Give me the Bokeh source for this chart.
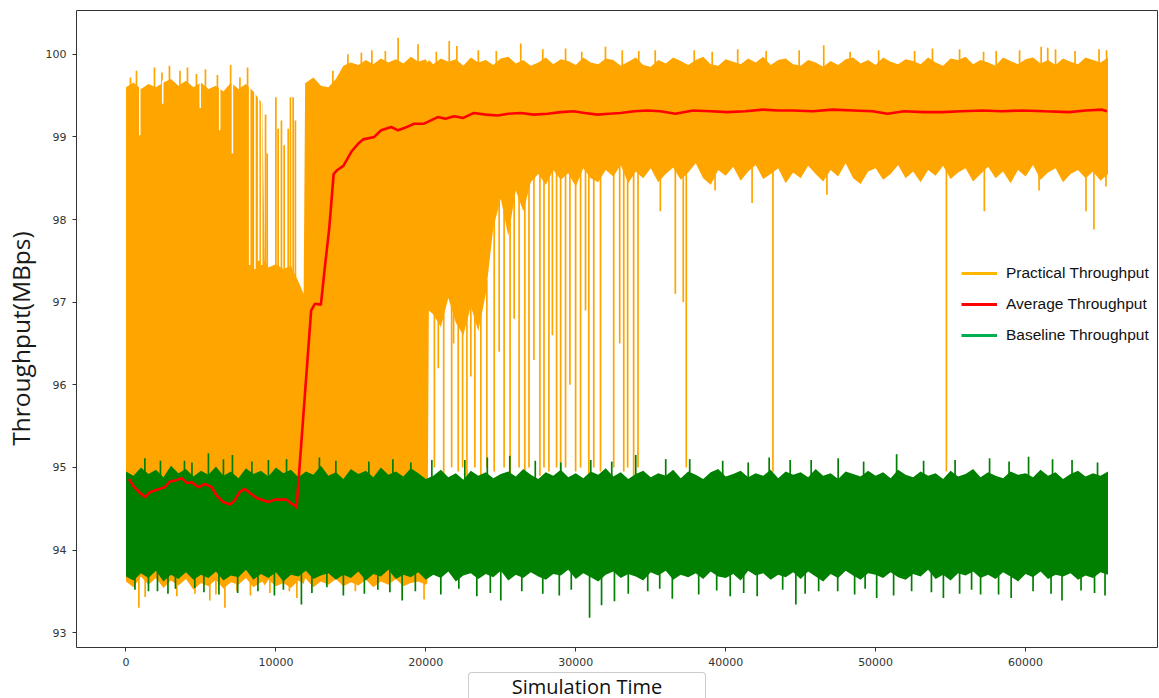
import numpy as np
from bokeh.plotting import figure
from bokeh.layouts import column, row
from bokeh.models import Range1d, Legend, LegendItem, FixedTicker, Div, Spacer
from bokeh.embed import file_html
from bokeh.resources import INLINE

# ---------------- data ----------------
# Practical throughput: sample times of the envelope and its upper / lower edge
o_t = (list(range(0, 8501, 500)) + [9100, 9250, 9500, 10000, 10500, 11000, 11500, 11850, 11950]
       + list(range(12500, 20001, 500)) + [20100, 20200] + list(range(20500, 65501, 500)))
o_hi = [
    99.60, 99.66, 99.58, 99.64, 99.60, 99.66, 99.70, 99.62, 99.68, 99.60,
    99.66, 99.58, 99.62, 99.55, 99.66, 99.58, 99.64, 99.55,
    99.40, 97.50, 97.42, 97.46, 97.40, 97.44, 97.25, 97.10, 99.65,
    99.72, 99.62, 99.60, 99.70, 99.86, 99.90, 99.87, 99.93, 99.88, 99.95,
    99.90, 99.94, 99.89, 99.97, 99.91, 99.94,
    99.90, 99.93,
    99.88, 99.95, 99.91, 99.94, 99.86, 99.96, 99.90, 99.93, 99.87, 99.95,
    99.97, 99.89, 99.93, 99.86, 99.90, 99.96, 99.88, 99.94, 99.92, 99.87,
    99.96, 99.90, 99.88, 99.95, 99.93, 99.86, 99.91, 99.96, 99.87, 99.85,
    99.93, 99.89, 99.96, 99.92, 99.87, 99.93, 99.97, 99.88, 99.86, 99.94,
    99.91, 99.88, 99.95, 99.90, 99.97, 99.87, 99.93, 99.95, 99.88, 99.86,
    99.93, 99.90, 99.85, 99.92, 99.87, 99.94, 99.96, 99.89, 99.93, 99.87,
    99.96, 99.91, 99.88, 99.94, 99.92, 99.88, 99.96, 99.90, 99.86, 99.95,
    99.93, 99.97, 99.88, 99.93, 99.90, 99.86, 99.96, 99.92, 99.88, 99.94,
    99.96, 99.89, 99.93, 99.87, 99.95, 99.91, 99.88, 99.96, 99.93, 99.90,
    99.96,
]
o_lo = [
    93.62, 93.55, 93.68, 93.58, 93.66, 93.54, 93.63, 93.57, 93.65, 93.52,
    93.60, 93.56, 93.64, 93.53, 93.61, 93.58, 93.66, 93.55,
    93.62, 93.57, 93.64, 93.56, 93.60, 93.54, 93.63, 93.59, 93.66,
    93.55, 93.62, 93.58, 93.65, 93.56, 93.61, 93.57, 93.64, 93.55, 93.62,
    93.58, 93.65, 93.56, 93.60, 93.62, 93.58,
    93.60, 96.90,
    96.85, 96.70, 97.05, 96.75, 96.60, 96.95, 96.65, 97.10, 97.90,
    98.25, 97.80, 98.35, 98.10, 98.45, 98.55, 98.42, 98.60, 98.48, 98.56,
    98.40, 98.62, 98.50, 98.45, 98.60, 98.52, 98.66, 98.44, 98.58, 98.50,
    98.62, 98.45, 98.55, 98.63, 98.48, 98.57, 98.68, 98.50, 98.42, 98.60,
    98.53, 98.64, 98.47, 98.58, 98.66, 98.49, 98.55, 98.62, 98.44, 98.57,
    98.50, 98.65, 98.55, 98.46, 98.60, 98.52, 98.68, 98.50, 98.43, 98.58,
    98.62, 98.48, 98.55, 98.66, 98.50, 98.58, 98.45, 98.60, 98.53, 98.65,
    98.49, 98.57, 98.62, 98.46, 98.55, 98.64, 98.50, 98.58, 98.44, 98.60,
    98.52, 98.66, 98.48, 98.57, 98.62, 98.45, 98.55, 98.60, 98.50, 98.58,
    98.47, 98.55,
]
# isolated downward excursions of the practical trace (time, lowest value)
o_dn_t = [860, 1280, 3390, 4600, 5590, 6000, 6600, 7400, 8300, 9600, 10900, 11400,
          15300, 19880,
          20570, 20830, 21190, 21720, 21850, 22160, 22450, 22740, 23000, 23270,
          23670, 24070, 24560, 24890, 25220, 25620, 25890, 26220, 26600, 26880,
          27210, 27610, 27880, 28210, 28440, 28720, 28990, 29320, 29610, 29990,
          30320, 30650, 30870, 31200, 31650, 32530, 32930, 33200, 33460, 33860,
          34150, 36640, 37170, 37370, 43150, 54720,
          35640, 39290, 41760, 46750, 57250, 60900, 64030, 64560, 65360]
o_dn_v = [93.30, 93.43, 93.44, 93.47, 93.39, 93.46, 93.30, 93.50, 93.45, 93.48, 93.50, 93.42,
          93.50, 93.40,
          95.00, 96.20, 94.90, 95.00, 96.50, 94.95, 95.00, 94.90, 96.10, 95.00,
          94.90, 95.00, 94.95, 96.40, 95.00, 94.90, 96.80, 95.00, 94.95, 95.00,
          96.30, 94.90, 95.00, 94.95, 96.60, 95.00, 94.90, 95.00, 96.00, 94.95,
          95.00, 96.90, 94.90, 95.00, 94.95, 95.00, 96.50, 94.95, 95.00, 94.90,
          95.00, 97.10, 97.00, 95.00, 94.95, 94.95,
          98.10, 98.35, 98.20, 98.30, 98.10, 98.35, 98.10, 97.88, 98.40]
# isolated upward excursions (time, highest value)
o_up_t = [300, 700, 1900, 2400, 2900, 3600, 4100, 4700, 5300, 6100, 6980, 7600, 8110,
          8380, 8490, 8710, 9310, 9420, 10000, 10150, 10370, 10550, 10820, 10970,
          11150, 11300, 13800, 14800, 15700, 16400, 17300, 18150, 19480, 20700, 21560,
          22070, 23500, 24700, 26330, 27800, 29320, 30400, 31980, 33100, 34200, 35300,
          37900, 39100, 40800, 42700, 44900, 46540, 48300, 50200, 52600, 53790, 55600,
          57200, 58040, 59600, 61040, 61480, 62000, 63300, 64900, 65400]
o_up_v = [99.72, 99.80, 99.84, 99.78, 99.86, 99.80, 99.84, 99.76, 99.82, 99.75, 99.87, 99.72, 99.84,
          99.00, 99.20, 99.20, 99.27, 98.80, 99.48, 99.10, 99.20, 98.90, 99.10, 99.48,
          99.48, 99.20, 99.80, 100.00, 100.02, 100.05, 100.04, 100.20, 100.12, 100.03, 100.16,
          100.10, 100.05, 100.04, 100.13, 100.06, 100.07, 100.03, 100.09, 100.05, 100.04, 100.05,
          100.05, 100.03, 100.06, 100.04, 100.05, 100.11, 100.03, 100.05, 100.04, 100.07, 100.06,
          100.03, 100.04, 100.05, 100.09, 100.08, 100.06, 100.04, 100.06, 100.05]
# narrow gaps reaching down from the top of the practical trace (time, depth)
o_gap_t = [920, 2450, 4950, 6250, 7100, 8250, 8600, 8850, 9050]
o_gap_v = [99.02, 99.40, 99.35, 99.08, 98.80, 97.45, 97.40, 97.50, 97.45]

# Baseline throughput envelope (every 500 time units)
g_hi = [
    94.95, 94.90, 95.00, 94.92, 94.97, 94.88, 95.02, 94.93, 94.98, 94.89,
    94.96, 94.91, 95.01, 94.90, 94.95, 94.87, 94.99, 94.92, 94.96, 94.89,
    95.00, 94.93, 94.97, 94.88, 94.95, 94.91, 95.02, 94.90, 94.94, 94.86,
    94.98, 94.92, 94.96, 94.88, 95.00, 94.91, 94.95, 94.89, 94.99, 94.93,
    94.86, 94.90, 94.97, 94.88, 94.93, 94.85, 94.96, 94.90, 94.94, 94.87,
    94.92, 94.95, 94.89, 94.98, 94.91, 94.86, 94.94, 94.90, 94.97, 94.88,
    94.93, 94.87, 94.95, 94.91, 94.99, 94.89, 94.94, 94.86, 94.92, 94.96,
    94.88, 94.93, 94.90, 94.97, 94.87, 94.95, 94.91, 94.86, 94.94, 94.98,
    94.89, 94.92, 94.96, 94.88, 94.93, 94.90, 94.97, 94.87, 94.95, 94.91,
    94.94, 94.88, 94.98, 94.90, 94.93, 94.86, 94.95, 94.92, 94.89, 94.96,
    94.90, 94.94, 94.87, 94.97, 94.91, 94.88, 94.95, 94.90, 94.93, 94.86,
    94.96, 94.89, 94.92, 94.98, 94.88, 94.94, 94.90, 94.87, 94.95, 94.91,
    94.93, 94.88, 94.97, 94.90, 94.94, 94.86, 94.92, 94.96, 94.89, 94.93,
    94.90, 94.95,
]
g_lo = [
    93.68, 93.63, 93.72, 93.66, 93.75, 93.62, 93.70, 93.65, 93.73, 93.64,
    93.70, 93.66, 93.74, 93.63, 93.69, 93.67, 93.76, 93.64, 93.71, 93.66,
    93.73, 93.62, 93.70, 93.68, 93.75, 93.65, 93.69, 93.72, 93.64, 93.70,
    93.66, 93.74, 93.63, 93.71, 93.68, 93.76, 93.65, 93.70, 93.67, 93.73,
    93.64, 93.70, 93.66, 93.74, 93.62, 93.69, 93.72, 93.65, 93.71, 93.67,
    93.75, 93.63, 93.70, 93.66, 93.73, 93.68, 93.64, 93.71, 93.69, 93.76,
    93.65, 93.72, 93.67, 93.62, 93.70, 93.74, 93.66, 93.71, 93.68, 93.63,
    93.73, 93.69, 93.75, 93.64, 93.70, 93.67, 93.72, 93.65, 93.74, 93.68,
    93.66, 93.71, 93.63, 93.75, 93.69, 93.72, 93.64, 93.70, 93.67, 93.73,
    93.65, 93.74, 93.68, 93.62, 93.71, 93.66, 93.75, 93.69, 93.64, 93.72,
    93.70, 93.66, 93.73, 93.67, 93.64, 93.71, 93.68, 93.76, 93.65, 93.70,
    93.63, 93.72, 93.69, 93.74, 93.66, 93.70, 93.65, 93.73, 93.68, 93.62,
    93.71, 93.67, 93.74, 93.65, 93.70, 93.68, 93.72, 93.64, 93.69, 93.66,
    93.73, 93.70,
]
g_dn_t = [4590, 7450, 11700, 18420, 23400, 25000, 30920, 31720, 32580, 36440, 44680, 47470,
          50070, 53720, 54520, 59040, 62430, 63700, 2100, 14500, 27800, 40300, 57000,
          600, 1500, 2800, 3300, 5200, 6200, 8800, 9900, 10500, 12400, 13400, 15900,
          16800, 17600, 19300, 21000, 22200, 24300, 26400, 28900, 29700, 33500, 34800,
          35600, 38200, 39400, 41200, 42100, 43800, 45300, 46200, 48600, 49300, 51200,
          52400, 55600, 56400, 58200, 60500, 61700, 64600, 65300]
g_dn_v = [93.54, 93.48, 93.34, 93.39, 93.44, 93.39, 93.18, 93.33, 93.38, 93.41, 93.34, 93.50,
          93.42, 93.49, 93.42, 93.42, 93.39, 93.51, 93.50, 93.45, 93.47, 93.44, 93.46,
          93.52, 93.50, 93.47, 93.53, 93.49, 93.46, 93.50, 93.45, 93.52, 93.48, 93.55, 93.47,
          93.52, 93.49, 93.50, 93.46, 93.53, 93.48, 93.50, 93.45, 93.52, 93.47, 93.50,
          93.53, 93.46, 93.51, 93.48, 93.44, 93.52, 93.47, 93.50, 93.46, 93.53, 93.45,
          93.50, 93.47, 93.52, 93.46, 93.50, 93.47, 93.48, 93.45]
g_up_t = [1260, 3900, 5500, 7100, 10710, 12900, 20400, 25600, 27300, 34000, 37600, 42900,
          45700, 51400, 53200, 57600, 60200, 63100, 2300, 4400, 6500, 8400, 9500, 14000,
          16200, 17800, 19000, 22600, 24100, 29000, 31000, 32400, 36000, 39800, 41500,
          44300, 47500, 49200, 55300, 58900, 61800, 64800]
g_up_v = [95.11, 95.08, 95.17, 95.15, 95.10, 95.12, 95.09, 95.14, 95.08, 95.15, 95.10, 95.12,
          95.09, 95.16, 95.08, 95.11, 95.13, 95.09, 95.08, 95.06, 95.10, 95.07, 95.09, 95.08,
          95.07, 95.10, 95.06, 95.09, 95.12, 95.06, 95.09, 95.07, 95.10, 95.08, 95.06,
          95.09, 95.11, 95.07, 95.09, 95.07, 95.10, 95.06]

# Average throughput (running mean)
avg_t = [200, 510, 940, 1280, 1600, 2060, 2590, 2940, 3280, 3720, 4060, 4390, 4830, 5270,
         5720, 6050, 6490, 6940, 7250, 7580, 7910, 8270, 8710, 9490, 9940, 10700, 11040,
         11330, 11370, 12350, 12600, 13000, 13250, 13560, 13850, 14100, 14500, 15030,
         15500, 15820, 16560, 17020, 17690, 18150, 18600, 19220, 19880, 20800, 21300,
         21880, 22500, 23200, 24000, 24800, 25500, 26330, 27200, 28120, 29000, 29850,
         30600, 31450, 32200, 32980, 33900, 34770, 35640, 36640, 37830, 39000, 40090,
         41300, 42490, 43500, 44480, 45800, 47140, 48500, 49800, 50800, 51900, 53200,
         54450, 55700, 57120, 58400, 59770, 61300, 62900, 64000, 65100, 65430]
avg_v = [94.86, 94.77, 94.69, 94.64, 94.70, 94.73, 94.76, 94.83, 94.84, 94.87, 94.81, 94.82,
         94.76, 94.80, 94.76, 94.66, 94.58, 94.55, 94.60, 94.70, 94.74, 94.69, 94.63, 94.58,
         94.61, 94.61, 94.56, 94.53, 94.50, 96.90, 96.98, 96.97, 97.40, 97.90, 98.55, 98.60,
         98.65, 98.82, 98.92, 98.97, 99.00, 99.08, 99.12, 99.08, 99.11, 99.16, 99.16, 99.24,
         99.22, 99.25, 99.23, 99.29, 99.27, 99.26, 99.28, 99.29, 99.27, 99.28, 99.30, 99.31,
         99.29, 99.27, 99.28, 99.29, 99.31, 99.32, 99.31, 99.28, 99.32, 99.31, 99.30, 99.31,
         99.33, 99.32, 99.32, 99.31, 99.33, 99.32, 99.31, 99.28, 99.31, 99.30, 99.30, 99.31,
         99.32, 99.31, 99.32, 99.31, 99.30, 99.32, 99.33, 99.31]

x_ticks = [0, 10000, 20000, 30000, 40000, 50000, 60000]
y_ticks = [93, 94, 95, 96, 97, 98, 99, 100]
legend_labels = ["Practical Throughput", "Average Throughput", "Baseline Throughput"]

# ---------------- styles ----------------
ORANGE = "#FFA500"
GREEN = "#008000"
RED = "#FF0000"
LEGEND_COLORS = ["#FFB700", "#FF0000", "#00B050"]

g_t = np.arange(len(g_hi)) * 500

p = figure(width=1159, height=672,
           x_range=Range1d(-3300, 68800), y_range=Range1d(92.82, 100.53),
           output_backend="svg", toolbar_location=None,
           min_border_left=74, min_border_right=2, min_border_top=10, min_border_bottom=25)
p.xgrid.visible = False
p.ygrid.visible = False
p.outline_line_color = "#333333"
p.outline_line_width = 1
p.background_fill_color = "white"
p.border_fill_color = "white"

# practical throughput
ot = np.array(o_t, dtype=float)
p.varea(x=ot, y1=o_lo, y2=o_hi, fill_color=ORANGE)
odt = np.array(o_dn_t, dtype=float)
p.segment(x0=odt, y0=np.interp(odt, ot, o_lo) + 0.05, x1=odt, y1=o_dn_v,
          line_color=ORANGE, line_width=1.7)
out = np.array(o_up_t, dtype=float)
p.segment(x0=out, y0=np.interp(out, ot, o_hi) - 0.05, x1=out, y1=o_up_v,
          line_color=ORANGE, line_width=1.7)
ogt = np.array(o_gap_t, dtype=float)
p.segment(x0=ogt, y0=np.interp(ogt, ot, o_hi) + 0.03, x1=ogt, y1=o_gap_v,
          line_color="white", line_width=1.5)

# baseline throughput
p.varea(x=g_t, y1=g_lo, y2=g_hi, fill_color=GREEN)
gdt = np.array(g_dn_t, dtype=float)
p.segment(x0=gdt, y0=np.interp(gdt, g_t, g_lo) + 0.05, x1=gdt, y1=g_dn_v,
          line_color=GREEN, line_width=1.7)
gut = np.array(g_up_t, dtype=float)
p.segment(x0=gut, y0=np.interp(gut, g_t, g_hi) - 0.05, x1=gut, y1=g_up_v,
          line_color=GREEN, line_width=1.7)

# average
p.line(avg_t, avg_v, line_color=RED, line_width=2.6)

# axes
for ax in (p.xaxis[0], p.yaxis[0]):
    ax.axis_line_color = None
    ax.major_tick_line_color = "#333333"
    ax.major_tick_out = 4
    ax.major_tick_in = 0
    ax.minor_tick_line_color = None
    ax.major_label_text_font = "DejaVu Sans"
    ax.major_label_text_font_size = "11px"
    ax.major_label_text_color = "#333333"
    ax.major_label_standoff = 6
p.xaxis.ticker = FixedTicker(ticks=x_ticks)
p.yaxis.ticker = FixedTicker(ticks=y_ticks)
p.xaxis.major_label_overrides = {t: str(t) for t in x_ticks}
p.yaxis.major_label_overrides = {t: str(t) for t in y_ticks}
# trailing no-break spaces move the centred, rotated title slightly down as in the reference
p.yaxis.axis_label = "Throughput(MBps)\u00a0\u00a0\u00a0"
p.yaxis.axis_label_text_font = "Open Sans"
p.yaxis.axis_label_text_font_size = "24.5px"
p.yaxis.axis_label_text_font_style = "normal"
p.yaxis.axis_label_text_color = "#1a1a1a"
p.yaxis.axis_label_standoff = 6

# legend (proxy renderers with no visible data)
dummies = [p.line(x=np.array([np.nan]), y=np.array([np.nan]), line_color=c, line_width=3)
           for c in LEGEND_COLORS]
legend = Legend(items=[LegendItem(label=t, renderers=[r]) for t, r in zip(legend_labels, dummies)],
                location=(885, 302), glyph_width=36, glyph_height=20, label_height=20,
                spacing=11, label_standoff=9, padding=0, margin=0,
                border_line_color=None, background_fill_alpha=0,
                label_text_font="Liberation Sans", label_text_font_size="15.5px",
                label_text_color="#111111")
p.add_layout(legend)

# x axis title, shown in a box below the chart
xtitle = Div(text="Simulation Time", width=238, height=26, margin=(0, 0, 0, 0),
             styles={"font-family": "Open Sans", "font-size": "20px", "color": "#111111",
                     "text-align": "center", "line-height": "20px", "padding-top": "4px",
                     "box-sizing": "border-box", "border": "1px solid #cccccc",
                     "border-bottom": "none", "border-radius": "4px 4px 0 0",
                     "background": "white"})
layout = column(p, row(Spacer(width=468, height=26, margin=(0, 0, 0, 0)), xtitle, spacing=0),
                spacing=0)

open("out.html", "w").write(file_html(layout, INLINE))
